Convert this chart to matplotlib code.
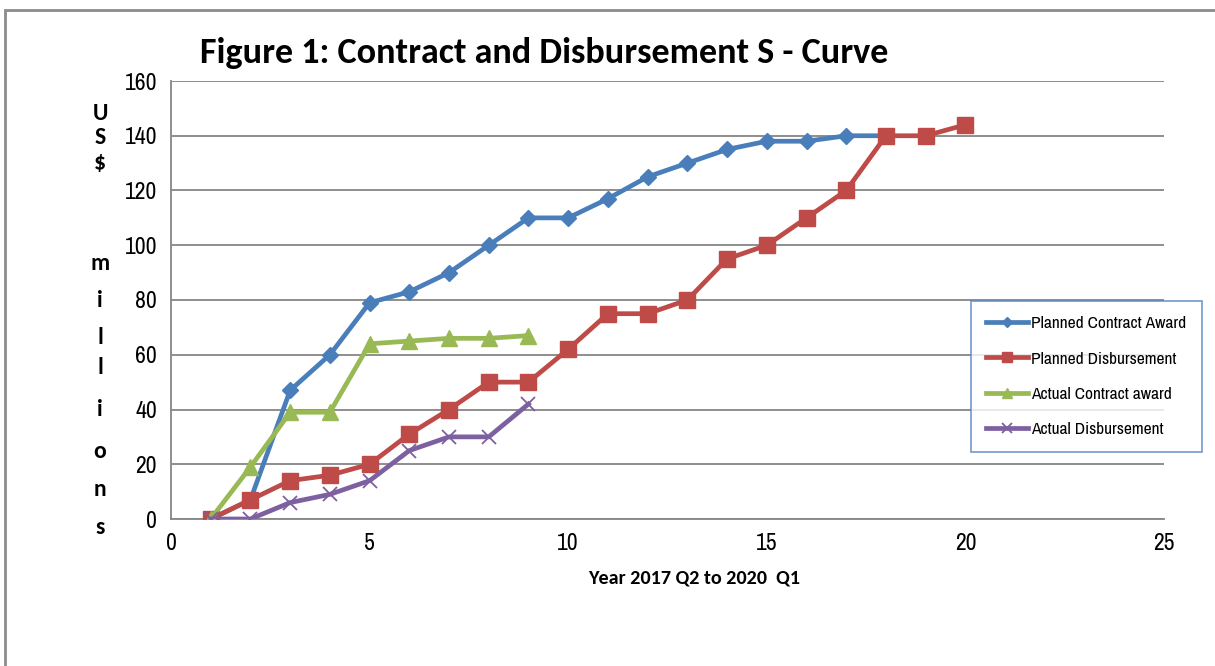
import matplotlib.pyplot as plt
from matplotlib.patches import Rectangle

# Quarter index (Year 2017 Q2 .. 2020 Q1)
planned_contract_x = list(range(1, 19))
planned_contract = [0, 7, 47, 60, 79, 83, 90, 100, 110, 110, 117, 125, 130, 135, 138, 138, 140, 140]

planned_disb_x = list(range(1, 21))
planned_disb = [0, 7, 14, 16, 20, 31, 40, 50, 50, 62, 75, 75, 80, 95, 100, 110, 120, 140, 140, 144]

actual_contract_x = list(range(1, 10))
actual_contract = [0, 19, 39, 39, 64, 65, 66, 66, 67]

actual_disb_x = list(range(1, 10))
actual_disb = [0, 0, 6, 9, 14, 25, 30, 30, 42]

x_ticks = [0, 5, 10, 15, 20, 25]
y_ticks = [0, 20, 40, 60, 80, 100, 120, 140, 160]

NARROW = ['Archivo Narrow', 'Carlito', 'DejaVu Sans']
BOLD = ['Carlito', 'DejaVu Sans']
plt.rcParams['font.family'] = NARROW

fig = plt.figure(figsize=(12.15, 6.66), dpi=100)
W, H = 1215, 666
ax = fig.add_axes([171 / W, 1 - 519 / H, (1164 - 171) / W, (519 - 81) / H])

# outer chart frame
fig.patches.append(Rectangle((5 / W, -0.05), 1.2, 1 - 10 / H + 0.05, transform=fig.transFigure,
                             fill=False, edgecolor='#8c8c8c', linewidth=2, zorder=0))

ax.plot(planned_contract_x, planned_contract, color='#4a7ebb', lw=3.4, marker='D', ms=8,
        label='Planned Contract Award', zorder=3)
ax.plot(planned_disb_x, planned_disb, color='#be4b48', lw=3.4, marker='s', ms=11,
        label='Planned Disbursement', zorder=4)
ax.plot(actual_contract_x, actual_contract, color='#98b954', lw=3.4, marker='^', ms=11,
        label='Actual Contract award', zorder=5)
ax.plot(actual_disb_x, actual_disb, color='#7d60a0', lw=3.4, marker='x', ms=10, mew=1.3,
        label='Actual Disbursement', zorder=6)

ax.set_xlim(0, 25)
ax.set_ylim(0, 160)
ax.set_xticks(x_ticks)
ax.set_yticks(y_ticks)
ax.tick_params(length=0, labelsize=17, pad=10)
ax.yaxis.grid(True, color='#868686', lw=1.3)
ax.set_axisbelow(True)
for s in ['top', 'right']:
    ax.spines[s].set_visible(False)
for s in ['left', 'bottom']:
    ax.spines[s].set_color('#868686')
    ax.spines[s].set_linewidth(1.3)

fig.text(200 / W, 1 - 53 / H, 'Figure 1: Contract and Disbursement S - Curve', family=BOLD,
         fontsize=26, fontweight='bold', va='center', ha='left')
fig.text(694 / W, 1 - 578 / H, 'Year 2017 Q2 to 2020  Q1', family=BOLD, fontsize=14.5,
         fontweight='bold', ha='center', va='center')

ylabel_letters = ['U', 'S', '$', 'm', 'i', 'l', 'l', 'i', 'o', 'n', 's']
ylabel_pos = [113, 137, 163, 263, 300, 337, 368, 410, 452, 490, 528]
for ch, py in zip(ylabel_letters, ylabel_pos):
    fig.text(100 / W, 1 - py / H, ch, family=BOLD, fontsize=17, fontweight='bold',
             ha='center', va='center')

leg = ax.legend(loc='upper left', bbox_to_anchor=((962 - 171) / (1164 - 171), (519 - 292) / (519 - 81)),
                bbox_transform=ax.transAxes, fontsize=12.5, frameon=True, fancybox=False,
                edgecolor='#4f81bd', handlelength=2.4, labelspacing=1.15, borderpad=0.9,
                handletextpad=0.2, markerscale=0.7)
leg.get_frame().set_linewidth(1.2)

fig.savefig('out.png', dpi=100)
